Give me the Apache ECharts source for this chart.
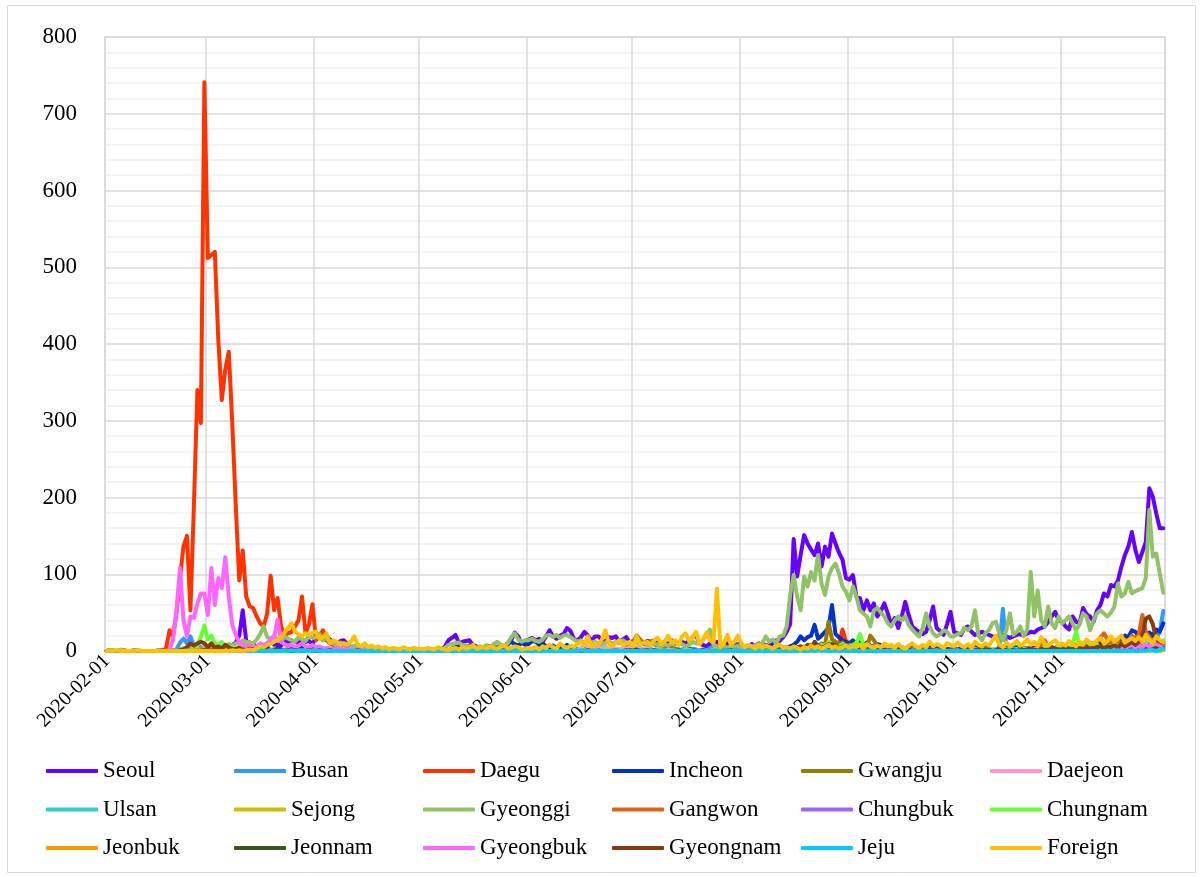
<!DOCTYPE html>
<html>
<head>
<meta charset="utf-8">
<script src="https://cdn.jsdelivr.net/npm/echarts@6.0.0/dist/echarts.min.js"></script>
<style>
  html, body { margin: 0; padding: 0; background: #ffffff; }
  #chart { width: 1203px; height: 877px; }
</style>
</head>
<body>
<div id="chart"></div>
<script>
// Daily new confirmed cases by region, 2020-02-01 .. 2020-11-30 (one value per day, 304 days).
// Rows inside each array run month by month: Feb(29) Mar(31) Apr(30) May(31) Jun(30) Jul(31) Aug(31) Sep(30) Oct(31) Nov(30).

const seoul = [
  0,1,0,0,1,0,0,0,1,0, 0,0,0,0,0,1,1,2,1,1, 0,1,3,3,2,4,2,3,4,
  6,5,2,7,4,7,6,8,11,20, 53,13,10,9,6,3,4,5,12,8, 9,7,14,12,14,12,10,15,12,13, 9,
  18,22,14,20,15,11,9,13,14,9, 5,6,8,4,3,2,5,2,3,1, 2,2,1,1,2,3,1,2,1,2,
  1,2,0,1,2,0,1,6,14,17, 21,10,12,13,14,8,6,4,5,7, 6,4,5,3,6,8,14,24,19,10, 12,
  15,17,14,16,12,19,27,19,16,20, 22,30,26,16,14,18,25,20,13,19, 19,14,12,18,17,19,12,15,18,11,
  13,14,11,9,13,12,14,10,9,12, 8,14,11,9,12,10,13,18,21,9, 8,6,10,8,12,9,7,10,6,8, 9,
  8,6,5,9,7,10,6,8,7,10, 14,13,18,25,35,146,97,125,151,140, 132,125,140,110,136,123,153,140,128,119, 95,
  93,99,71,69,53,66,53,62,45,52, 62,49,34,43,30,45,64,47,32,28, 25,22,25,40,58,30,26,21,35,51,
  25,23,21,30,32,25,21,23,25,23, 21,19,18,20,21,19,17,19,21,22, 20,23,25,24,28,30,32,38,45,51, 40,
  38,32,28,45,38,36,56,48,45,38, 53,60,75,71,86,84,92,110,125,136, 155,132,116,129,142,212,201,179,160,160
];

const busan = [
  0,0,0,0,0,0,0,0,0,0, 0,0,0,0,0,0,0,0,0,0, 2,11,16,10,19,7,8,5,3,
  4,3,2,5,3,2,1,2,0,1, 1,0,2,1,0,1,0,1,2,1, 0,1,1,2,3,1,0,1,2,1, 0,
  1,0,1,2,0,1,0,0,1,0, 0,1,0,0,0,1,0,0,0,0, 0,0,1,0,0,0,0,0,1,0,
  0,0,1,0,0,0,0,0,1,2, 1,0,1,0,0,0,0,1,0,0, 1,0,0,0,0,1,0,2,1,0, 0,
  1,0,0,2,1,0,0,1,0,0, 1,0,2,1,1,3,2,1,0,4, 2,3,5,2,1,0,1,2,1,0,
  1,0,2,1,0,0,1,3,2,0, 1,0,1,2,0,0,1,3,1,0, 2,1,4,2,1,0,1,0,2,1, 0,
  1,0,0,1,2,0,1,0,0,1, 0,2,1,0,3,2,5,4,6,3, 4,7,5,6,3,8,5,6,4,7, 3,
  5,4,6,3,5,2,4,6,3,2, 4,3,5,2,1,3,2,4,3,1, 2,3,1,2,4,2,3,1,2,3,
  2,1,3,2,1,4,2,3,1,2, 3,2,1,4,55,5,3,8,4,2, 3,4,2,3,1,4,2,3,5,2, 3,
  3,2,4,2,3,5,4,6,3,5, 8,6,10,7,9,12,8,14,10,16, 12,18,15,20,14,17,22,16,25,52
];

const daegu = [
  0,0,0,0,0,0,0,0,0,0, 0,0,0,0,0,0,0,3,27,19, 49,95,136,150,53,190,340,297,741,
  512,516,520,405,327,367,390,297,190,92, 131,71,58,56,45,36,32,49,98,53, 69,32,21,23,25,32,40,71,23,35, 61,
  14,20,27,14,10,8,6,7,9,5, 3,2,8,4,3,2,3,1,0,1, 2,0,1,3,0,2,1,0,1,0,
  0,1,0,0,0,1,0,0,1,0, 0,0,1,0,0,0,2,0,1,0, 0,0,1,0,0,0,0,1,0,0, 0,
  0,0,1,0,0,0,0,0,1,0, 0,2,0,0,1,0,0,0,0,0, 1,0,0,0,0,1,0,0,0,0,
  0,0,1,0,0,0,0,0,0,1, 0,0,0,0,1,0,0,0,0,0, 0,1,0,0,0,0,0,0,1,0, 0,
  0,0,0,1,0,0,0,0,0,0, 1,0,0,2,1,3,2,4,5,3, 6,8,5,4,9,7,6,10,8,28, 12,
  10,8,6,5,4,3,2,4,3,1, 2,3,1,2,1,0,2,1,1,0, 1,2,0,1,3,1,0,1,2,0,
  1,0,2,1,0,1,0,1,2,0, 1,0,1,3,1,0,2,1,0,1, 4,2,1,3,2,1,0,2,3,1, 2,
  1,2,3,1,2,0,1,2,3,4, 2,3,1,2,5,3,4,6,3,5, 8,4,6,9,5,7,11,8,10,12
];

const incheon = [
  0,1,0,0,0,0,0,0,0,0, 0,0,0,0,0,0,0,0,0,0, 1,0,1,0,2,1,0,1,2,
  2,1,0,1,2,0,1,3,2,1, 0,1,2,1,0,1,2,3,1,2, 4,2,1,3,5,2,3,4,2,3, 5,
  4,3,2,1,3,2,1,2,1,0, 1,2,0,1,0,1,0,0,1,0, 0,0,1,0,0,0,0,0,0,0,
  0,0,0,0,0,1,0,0,1,3, 5,8,6,4,7,3,5,4,2,3, 2,1,3,2,6,10,12,9,7,11, 8,
  9,13,12,8,10,6,5,7,4,6, 3,8,5,4,2,3,6,2,1,3, 2,1,4,2,3,1,2,1,2,3,
  1,2,3,1,0,2,1,1,3,0, 2,1,1,0,2,1,3,1,2,0, 1,2,1,0,1,2,0,1,1,3, 2,
  1,0,2,1,1,3,2,1,2,4, 3,2,5,4,6,8,12,19,14,18, 20,34,16,20,25,30,60,22,18,14, 12,
  10,14,9,12,8,11,7,6,9,8, 5,7,6,4,8,5,3,6,4,5, 3,2,4,6,3,5,2,4,3,2,
  3,2,4,1,3,2,5,3,2,4, 3,1,2,4,3,5,2,3,4,6, 3,2,5,4,3,6,4,5,3,4, 6,
  5,3,4,6,8,5,7,4,9,6, 8,10,7,12,9,14,11,16,20,18, 27,25,20,18,22,24,20,28,25,36
];

const gwangju = [
  0,0,0,0,0,1,0,0,0,0, 0,0,0,0,0,0,0,0,0,0, 1,2,1,0,1,2,0,0,1,
  0,0,1,0,2,0,1,0,1,0, 0,0,0,1,0,0,0,1,0,0, 1,0,0,1,2,0,1,0,0,1, 0,
  1,0,0,1,0,0,0,0,1,0, 0,0,0,0,0,1,0,0,0,0, 0,0,0,0,0,0,0,0,0,0,
  0,0,0,0,0,0,0,0,1,0, 0,1,0,0,0,0,0,0,0,0, 0,0,0,0,0,1,0,0,0,0, 0,
  0,0,0,0,0,0,0,0,0,0, 0,0,0,0,0,0,0,0,0,0, 0,0,0,0,0,0,1,2,5,8,
  12,20,15,10,8,12,9,6,7,5, 4,6,3,2,1,3,2,1,0,1, 2,0,1,0,1,0,2,1,0,1, 0,
  0,1,0,0,1,0,0,1,0,2, 0,1,0,2,3,1,4,6,3,5, 8,4,6,10,7,38,15,12,9,11, 7,
  8,6,12,7,9,5,20,14,6,4, 5,3,6,2,4,3,1,2,3,1, 2,1,0,1,2,0,1,0,1,0,
  0,1,0,0,1,2,0,1,0,3, 1,0,2,1,0,1,0,0,2,1, 0,1,3,0,1,2,0,1,0,2, 1,
  0,1,2,1,0,2,1,3,2,4, 2,1,3,5,2,4,3,6,4,5, 8,4,6,7,10,9,6,8,7,10
];

const daejeon = [
  0,0,0,0,0,0,0,0,0,0, 0,0,0,0,0,0,0,0,0,0, 0,1,1,0,1,2,3,1,2,
  1,2,0,1,3,2,1,0,1,2, 0,1,2,0,1,2,3,1,0,2, 1,0,1,2,0,1,2,0,1,0, 1,
  1,0,2,0,1,0,0,1,0,0, 1,0,0,0,0,0,1,0,0,0, 0,0,0,0,0,0,0,0,0,0,
  0,0,0,0,0,0,0,0,0,1, 0,0,1,0,0,0,0,0,0,0, 0,0,0,0,0,1,0,0,0,0, 0,
  0,0,0,0,0,0,0,0,0,0, 0,0,0,0,1,4,8,6,5,3, 7,4,6,2,5,3,2,4,3,5,
  4,6,3,2,5,1,2,3,1,0, 2,1,0,1,0,2,1,0,0,1, 0,1,0,0,0,1,0,0,1,0, 0,
  0,0,1,0,0,0,1,0,0,0, 1,0,2,1,3,2,4,3,5,2, 6,4,3,5,8,6,4,7,5,3, 4,
  5,3,4,6,2,3,5,1,2,4, 3,1,2,0,1,2,1,0,1,2, 0,1,0,1,2,0,1,0,0,1,
  0,1,0,2,1,0,1,0,1,0, 2,1,0,1,0,1,2,0,1,0, 1,0,2,1,0,1,0,2,1,0, 1,
  0,1,2,0,1,2,1,0,2,1, 3,2,1,2,4,2,3,5,2,4, 3,6,4,5,3,7,5,4,6,8
];

const ulsan = [
  0,0,0,0,0,0,0,0,0,0, 0,0,0,0,0,0,0,0,0,0, 0,0,1,2,3,1,4,3,2,
  3,2,1,2,1,0,1,0,1,0, 0,1,0,0,0,1,0,0,1,0, 0,0,1,0,0,0,1,0,0,0, 0,
  0,0,1,0,0,0,0,0,1,0, 0,0,0,0,0,0,0,0,0,0, 0,0,0,0,0,0,0,0,0,0,
  0,0,0,0,0,0,0,0,0,0, 0,0,0,0,0,0,0,0,0,1, 0,0,0,0,0,0,0,0,0,0, 0,
  0,0,0,0,0,0,0,0,0,0, 1,0,0,0,0,0,0,0,0,0, 0,0,0,0,1,0,0,0,0,0,
  0,0,0,0,0,0,0,0,0,0, 0,0,0,0,1,0,0,0,0,0, 0,0,1,0,0,0,0,0,0,0, 0,
  0,0,0,0,0,0,0,0,0,0, 0,0,0,1,0,1,0,2,1,0, 2,1,3,2,1,4,2,3,1,2, 1,
  2,1,3,1,0,2,1,0,1,0, 1,0,0,1,0,0,1,0,0,0, 0,1,0,0,0,1,0,0,0,1,
  0,1,0,0,0,1,0,0,0,0, 1,0,0,0,0,1,0,0,0,0, 0,0,0,1,0,0,0,0,1,0, 0,
  0,0,1,0,0,0,1,0,0,0, 1,0,0,2,0,1,0,3,1,2, 4,1,3,2,5,3,2,4,3,6
];

const sejong = [
  0,0,0,0,0,0,0,0,0,0, 0,0,0,0,0,0,0,0,0,0, 0,0,0,0,0,0,0,1,0,
  0,0,0,1,0,0,0,0,1,3, 5,10,12,6,4,2,3,1,0,1, 0,1,0,0,1,0,0,0,1,0, 0,
  0,0,0,0,0,0,0,0,0,0, 0,0,0,0,0,0,0,0,0,0, 0,0,0,0,0,0,0,0,0,0,
  0,0,0,0,0,0,0,0,0,0, 0,0,0,0,0,0,0,0,0,0, 0,0,0,0,0,0,0,0,0,0, 0,
  0,0,0,0,0,0,0,0,0,0, 0,0,0,0,0,0,1,0,0,1, 0,0,0,0,0,1,0,0,0,0,
  0,0,0,0,0,1,0,0,0,0, 0,0,0,0,0,0,0,0,0,0, 0,0,0,0,1,0,0,0,0,0, 0,
  0,0,0,0,0,0,0,0,0,0, 0,0,0,0,0,0,0,1,0,0, 1,0,0,2,0,1,0,0,1,0, 0,
  1,0,0,1,0,0,0,1,0,0, 0,0,0,0,0,1,0,0,0,0, 0,0,0,0,0,0,0,0,1,0,
  0,0,0,0,0,0,0,0,0,0, 0,1,0,0,0,0,0,0,0,0, 0,0,0,0,0,0,0,1,0,0, 0,
  0,0,0,0,1,0,0,0,0,0, 0,0,1,0,0,0,0,1,0,0, 0,1,0,0,2,0,1,0,0,1
];

const gyeonggi = [
  0,1,1,0,2,0,0,0,1,1, 0,0,0,0,0,1,0,0,0,1, 1,2,3,1,4,2,3,2,5,
  2,3,5,8,6,7,9,7,10,9, 14,12,9,10,15,22,32,18,16,20, 14,12,19,16,14,12,18,15,13,20, 17,
  18,22,14,17,12,10,8,11,9,6, 5,7,4,3,5,2,4,3,2,1, 3,1,2,0,1,2,1,0,2,1,
  1,0,2,1,0,1,2,4,8,9, 10,11,8,7,6,5,4,6,5,7, 5,9,12,8,6,10,18,23,15,12, 14,
  14,16,13,12,15,20,21,18,21,17, 20,21,18,15,12,14,10,13,11,12, 10,8,11,13,9,12,10,14,11,9,
  10,12,8,11,9,7,10,8,6,9, 7,10,8,11,9,6,8,12,10,9, 14,20,28,8,6,5,7,4,6,5, 7,
  4,6,3,5,8,4,10,19,12,15, 10,19,20,32,73,99,71,53,97,84, 103,92,125,88,73,97,108,114,101,84, 77,
  66,84,71,53,49,45,32,53,56,50, 45,36,32,40,45,40,45,34,28,23, 19,30,49,32,23,19,22,27,25,19,
  19,22,23,30,27,32,53,20,14,23, 27,36,38,23,14,27,49,21,25,32, 19,28,103,45,79,40,32,58,36,30, 45,
  36,40,45,36,27,35,49,45,27,40, 49,53,49,45,50,58,88,71,75,90, 75,78,80,82,95,184,123,127,101,76
];

const gangwon = [
  0,0,0,0,0,0,0,0,0,0, 0,0,0,0,0,0,0,0,0,0, 0,1,2,1,1,0,1,2,1,
  2,1,0,1,2,0,1,0,1,0, 0,1,0,0,1,0,0,0,1,0, 0,1,0,0,1,0,1,0,0,2, 1,
  0,1,0,0,1,0,0,0,0,1, 0,0,0,0,0,0,0,0,0,0, 0,0,0,0,0,0,0,0,0,0,
  0,0,0,0,0,0,0,0,0,1, 0,0,0,0,0,0,0,0,0,0, 0,0,0,0,1,0,0,0,0,0, 0,
  0,0,0,0,1,0,0,0,0,0, 0,0,1,0,0,0,0,0,0,1, 0,0,0,0,0,1,0,0,0,0,
  0,0,0,1,0,0,0,0,1,0, 0,0,0,0,0,0,1,0,0,0, 0,0,1,0,0,0,0,0,0,0, 1,
  0,0,1,0,0,0,0,1,0,0, 0,0,1,0,2,3,2,4,3,6, 5,3,4,2,5,3,6,4,3,2, 3,
  2,3,1,2,4,1,2,1,3,0, 1,2,0,1,0,2,1,0,1,0, 0,1,0,2,0,1,0,0,1,0,
  0,1,0,0,1,0,2,0,1,0, 1,0,2,1,0,1,3,1,2,0, 1,2,1,0,3,6,14,4,2,1, 2,
  1,2,3,2,1,3,5,8,6,10, 12,18,23,15,10,8,13,9,14,12, 20,15,22,47,25,18,12,15,10,8
];

const chungbuk = [
  0,0,0,0,0,0,0,0,0,0, 0,0,0,0,0,0,0,0,0,0, 0,1,1,0,1,2,0,1,1,
  1,0,2,1,0,1,3,2,1,0, 1,2,0,1,1,0,2,1,0,1, 0,1,1,0,0,1,0,1,0,0, 1,
  0,1,0,0,0,1,0,0,0,0, 0,0,1,0,0,0,0,0,0,0, 0,0,0,0,0,0,0,0,0,0,
  0,0,0,0,0,0,0,0,0,1, 1,0,0,1,0,0,0,0,0,0, 0,0,0,0,0,0,0,1,0,0, 0,
  0,0,0,0,0,0,0,0,1,0, 0,0,0,0,0,0,0,0,0,0, 1,0,0,0,0,0,0,0,0,0,
  0,0,0,0,0,0,1,0,0,0, 0,0,0,0,0,0,0,0,1,0, 0,0,0,0,0,0,0,1,0,0, 0,
  0,0,0,0,0,0,0,0,0,0, 0,0,0,1,0,1,2,1,3,2, 1,4,2,3,1,5,3,2,4,2, 3,
  2,1,3,1,2,0,1,2,0,1, 0,1,0,0,1,0,0,1,0,0, 0,1,0,0,2,0,0,1,0,0,
  0,1,0,0,0,1,0,0,2,0, 0,1,0,0,0,1,0,0,1,0, 0,0,1,0,0,2,0,0,1,0, 0,
  0,1,0,0,1,0,2,0,1,0, 2,1,0,3,1,2,0,4,1,3, 2,5,3,2,4,6,3,5,4,8
];

const chungnam = [
  0,0,0,0,0,0,0,0,0,0, 0,0,0,0,0,0,0,0,0,0, 0,0,0,0,1,3,8,18,33,
  15,20,10,8,12,5,6,4,3,3, 5,2,4,1,2,3,1,0,1,2, 0,1,0,1,0,1,0,0,1,0, 0,
  0,1,0,0,0,0,1,0,0,0, 0,0,0,0,0,0,0,0,0,0, 0,0,0,0,0,0,0,0,0,0,
  0,0,0,0,0,0,0,0,0,0, 0,0,0,0,0,0,1,0,0,0, 0,0,0,0,0,0,0,0,0,0, 0,
  0,0,0,0,0,0,0,0,0,0, 0,1,0,0,0,1,2,1,0,1, 0,0,1,0,0,0,1,0,0,0,
  0,1,0,0,0,0,0,0,1,0, 0,0,0,0,0,0,1,0,0,0, 0,0,0,1,0,0,0,0,0,0, 0,
  0,0,0,0,0,0,1,0,0,0, 0,0,0,0,2,1,3,5,2,4, 3,6,4,8,5,12,7,4,6,9, 5,
  6,8,10,22,8,5,4,6,3,2, 4,1,3,2,1,0,2,1,0,1, 0,2,1,0,1,0,0,1,0,2,
  1,0,2,1,0,1,0,2,1,0, 1,3,2,1,4,2,1,3,2,5, 3,2,4,1,3,2,5,3,2,4, 6,
  3,5,4,8,25,6,4,10,6,5, 8,6,4,7,5,9,6,10,8,12, 9,7,14,10,12,15,10,16,12,14
];

const jeonbuk = [
  0,0,0,0,0,0,0,0,0,0, 0,0,0,0,0,0,0,0,0,0, 0,0,0,1,0,1,1,0,1,
  0,0,1,0,0,1,0,0,0,0, 0,0,1,0,0,0,0,0,0,0, 0,0,0,0,1,0,0,0,0,1, 0,
  0,0,1,0,0,0,0,0,0,0, 0,0,0,0,0,0,0,0,0,0, 0,0,0,0,0,0,0,0,0,0,
  0,0,0,0,0,0,0,0,0,0, 0,0,0,0,0,0,0,0,0,0, 0,0,0,0,0,1,0,0,0,0, 0,
  0,0,0,0,0,0,0,0,0,0, 0,0,0,0,0,0,1,0,0,0, 0,0,0,0,0,0,0,0,0,0,
  0,0,1,0,0,0,0,0,0,0, 0,0,0,0,0,0,0,0,0,0, 0,0,0,1,0,0,0,0,0,0, 0,
  0,0,0,0,0,0,0,0,0,0, 0,0,0,0,1,2,0,3,1,2, 4,2,1,3,5,2,4,3,1,2, 3,
  1,2,0,1,3,1,0,2,1,0, 1,0,0,1,0,0,1,0,0,0, 1,0,0,0,0,1,0,0,0,0,
  0,0,1,0,0,0,0,1,0,0, 0,0,0,1,0,0,0,2,0,0, 1,0,0,0,3,1,0,0,2,1, 0,
  0,1,0,0,2,1,0,3,1,2, 1,0,4,2,1,3,5,2,4,3, 2,6,3,4,8,5,6,4,9,7
];

const jeonnam = [
  0,0,0,0,0,0,0,0,0,0, 0,0,0,0,0,0,0,0,0,0, 0,0,0,0,0,0,0,0,1,
  0,0,1,0,0,0,0,0,0,0, 0,0,0,1,0,0,0,0,0,0, 0,0,0,0,0,1,0,0,0,0, 0,
  0,0,0,1,0,0,0,0,0,0, 0,0,0,0,0,0,0,0,0,0, 0,0,0,0,0,0,0,0,0,0,
  0,0,0,0,0,0,0,0,0,0, 0,0,0,0,0,0,0,0,0,0, 0,0,0,0,0,0,0,0,0,0, 0,
  0,0,0,0,0,0,0,0,0,0, 0,0,0,0,0,0,0,0,0,0, 0,0,0,0,0,1,0,0,0,1,
  1,2,0,1,0,0,1,0,0,0, 0,0,0,0,0,0,0,0,0,0, 0,0,0,0,0,0,0,0,0,0, 0,
  0,0,0,0,0,0,0,0,0,0, 0,0,0,0,0,1,0,2,1,0, 3,12,6,4,5,3,9,6,2,3, 1,
  2,1,0,1,2,0,1,0,0,1, 0,0,1,0,0,0,0,1,0,0, 0,0,0,0,1,0,0,0,0,0,
  0,0,0,1,0,0,0,0,0,0, 1,0,0,0,0,0,0,0,0,1, 0,0,0,0,0,0,1,0,0,0, 0,
  0,0,0,1,0,0,2,1,0,3, 5,2,1,4,3,2,5,4,3,6, 4,2,8,5,3,4,6,3,5,4
];

const gyeongbuk = [
  0,0,0,0,0,0,0,0,0,0, 0,0,0,0,0,0,0,0,2,14, 53,108,40,19,45,43,62,75,75,
  47,108,60,95,82,122,71,34,21,12, 8,5,7,4,6,10,8,10,15,18, 41,12,9,6,8,5,7,10,6,5, 8,
  5,6,3,4,3,2,5,3,2,4, 1,2,1,3,2,1,1,0,2,1, 0,1,0,0,1,0,2,0,1,0,
  0,0,1,0,0,0,0,0,1,0, 0,1,0,0,0,0,2,1,0,0, 0,1,0,0,0,0,1,0,0,0, 0,
  0,0,0,0,1,0,0,0,0,0, 0,1,0,0,0,0,0,0,1,0, 0,0,0,0,0,1,0,0,0,0,
  0,0,0,1,0,0,0,0,0,0, 0,0,1,0,0,0,0,0,0,1, 0,0,0,0,0,0,0,0,0,0, 1,
  0,0,0,0,0,0,0,0,1,0, 0,0,0,1,2,3,4,2,5,3, 4,6,3,5,4,7,6,3,5,4, 3,
  4,6,3,5,2,4,3,5,2,1, 3,2,1,2,0,1,3,1,0,2, 1,0,1,2,0,1,0,1,0,1,
  0,1,0,2,1,0,3,1,2,0, 1,0,2,1,3,1,0,2,1,0, 1,2,0,3,1,2,0,1,3,2, 1,
  2,1,3,2,4,1,3,2,5,3, 4,2,6,3,5,4,7,5,3,6, 8,4,7,5,9,6,8,10,7,9
];

const gyeongnam = [
  0,0,0,0,0,0,0,0,0,0, 0,0,0,0,0,0,0,0,0,0, 0,1,2,5,10,7,10,12,10,
  5,10,4,6,3,8,5,2,3,4, 2,1,3,2,1,0,2,1,0,1, 2,1,0,1,2,1,0,1,0,1, 0,
  0,1,0,0,1,0,0,0,0,0, 0,0,1,0,0,0,0,0,0,0, 0,0,0,0,0,0,0,0,0,0,
  0,0,0,0,0,0,0,0,0,1, 0,0,1,0,0,0,0,0,0,0, 0,0,0,0,0,0,1,0,0,0, 0,
  0,0,0,0,0,0,0,0,1,0, 0,0,0,0,0,0,0,1,0,0, 0,0,0,0,0,0,0,0,1,0,
  0,0,0,0,1,0,0,0,0,0, 0,0,0,1,0,0,0,0,0,0, 1,0,0,0,0,0,0,0,1,0, 0,
  0,0,0,0,0,0,0,0,0,0, 0,1,0,2,3,1,4,6,3,8, 5,10,7,4,6,9,5,8,3,6, 4,
  5,3,4,2,3,5,2,1,3,2, 1,2,0,1,3,0,1,2,0,1, 0,1,0,2,1,0,1,0,2,1,
  1,0,2,1,3,0,1,2,4,1, 2,0,1,3,2,1,0,2,1,3, 1,2,4,1,2,3,1,2,5,3, 2,
  2,4,3,2,5,3,4,6,2,5, 4,7,3,6,5,8,4,10,6,9, 12,8,12,20,42,45,35,15,12,10
];

const jeju = [
  0,0,0,0,0,0,0,0,0,0, 0,0,0,0,0,0,0,0,0,0, 1,0,0,1,0,0,0,0,0,
  0,0,0,0,0,0,0,0,0,0, 0,0,0,0,0,0,0,0,0,0, 0,0,0,0,1,0,0,1,0,0, 0,
  1,0,0,0,0,0,0,0,0,0, 0,0,0,0,0,0,0,0,0,0, 0,0,0,0,0,0,0,0,0,0,
  0,0,0,0,0,0,0,0,0,0, 0,0,0,0,0,0,0,0,0,0, 0,0,0,0,0,0,0,0,0,0, 0,
  0,0,0,0,0,0,0,0,0,0, 0,0,0,0,0,1,0,0,0,0, 0,0,0,0,0,0,0,0,0,0,
  0,0,0,0,0,0,0,0,0,0, 0,0,0,0,0,0,0,0,0,0, 0,0,0,0,0,0,0,0,0,0, 0,
  0,0,0,0,0,0,0,0,0,0, 0,0,0,0,0,0,0,1,0,0, 1,0,2,0,1,0,0,1,0,0, 1,
  0,1,0,0,0,0,1,0,0,0, 0,0,0,0,0,0,0,0,0,0, 0,0,0,0,0,0,0,0,0,0,
  0,0,0,0,0,0,0,0,0,0, 0,0,0,0,0,0,0,0,1,0, 0,0,0,0,0,0,0,0,0,0, 0,
  0,0,0,0,0,0,0,0,0,0, 0,0,0,0,0,0,1,0,0,0, 1,0,0,1,0,2,1,0,2,3
];

const foreign = [
  0,1,0,1,0,0,0,0,0,1, 0,0,0,0,0,0,0,0,0,0, 0,0,0,0,0,0,0,0,0,
  0,0,0,0,0,0,0,1,0,1, 0,1,2,1,3,6,5,8,9,12, 14,18,24,30,36,25,22,19,23,21, 24,
  25,16,18,23,10,14,12,8,10,9, 12,19,8,6,10,5,7,4,6,3, 5,2,4,3,2,5,3,2,4,3,
  3,2,4,3,2,5,3,2,1,3, 4,2,5,3,4,8,3,4,5,3, 6,4,3,5,8,3,4,6,5,2, 3,
  4,3,5,2,6,4,8,5,3,10, 6,4,7,5,9,12,8,19,6,10, 8,15,27,9,6,11,14,8,10,12,
  6,19,9,10,12,8,14,17,9,12, 20,11,14,8,19,23,13,18,25,9, 15,24,14,11,81,5,10,21,8,12, 20,
  10,5,8,6,3,9,4,7,5,3, 6,8,4,5,3,6,4,2,5,3, 7,4,6,3,5,8,4,6,3,5, 7,
  4,6,5,8,3,9,6,4,7,5, 10,6,8,4,9,5,3,7,10,6, 4,8,5,12,6,9,7,4,10,8,
  6,11,7,5,9,4,12,8,6,10, 7,14,20,8,5,11,6,9,13,7, 10,15,8,12,6,18,9,7,11,14, 8,
  10,7,13,9,6,12,8,15,11,9, 14,17,10,13,19,12,16,20,11,14, 17,13,18,12,21,15,10,19,14,11
];

// Region names, line colours and the value arrays, in plotting order
const regionNames = ['Seoul','Busan','Daegu','Incheon','Gwangju','Daejeon','Ulsan','Sejong','Gyeonggi',
  'Gangwon','Chungbuk','Chungnam','Jeonbuk','Jeonnam','Gyeongbuk','Gyeongnam','Jeju','Foreign'];
const regionColors = ['#6600FF','#3399FF','#FF3300','#0033CC','#9C7A00','#FF99CC','#33CCCC','#CCC000','#92C266',
  '#D9641A','#9966FF','#66FF33','#FF9900','#375623','#FF66FF','#843C0C','#00CCFF','#FFC000'];
const regionValues = [seoul, busan, daegu, incheon, gwangju, daejeon, ulsan, sejong, gyeonggi,
  gangwon, chungbuk, chungnam, jeonbuk, jeonnam, gyeongbuk, gyeongnam, jeju, foreign];

// Y axis ticks
const yMin = 0, yMax = 800, yStep = 100;

// One category per day starting 2020-02-01
const firstDay = Date.UTC(2020, 1, 1);
const dayCount = 304;
const days = [];
for (let i = 0; i < dayCount; i++) {
  days.push(new Date(firstDay + i * 86400000).toISOString().slice(0, 10));
}
regionValues.forEach((arr, k) => {
  if (arr.length !== dayCount) throw new Error(regionNames[k] + ' has ' + arr.length + ' values');
});

const FONT = '"Liberation Serif", "Times New Roman", serif';
const isMonthStart = (idx, val) => String(val).slice(8) === '01';

const series = regionNames.map((name, k) => ({
  name: name,
  type: 'line',
  data: regionValues[k],
  showSymbol: false,
  symbol: 'none',
  silent: true,
  color: regionColors[k],
  lineStyle: { width: 4, color: regionColors[k], cap: 'round', join: 'round' }
}));

// Legend laid out as six columns of three rows
const legendColumns = [
  ['Seoul','Ulsan','Jeonbuk'],
  ['Busan','Sejong','Jeonnam'],
  ['Daegu','Gyeonggi','Gyeongbuk'],
  ['Incheon','Gangwon','Gyeongnam'],
  ['Gwangju','Chungbuk','Jeju'],
  ['Daejeon','Chungnam','Foreign']
];
const legendLeft = [46, 234, 423, 612, 801, 990];
const legends = legendColumns.map((names, c) => ({
  orient: 'vertical',
  left: legendLeft[c],
  top: 759,
  data: names,
  icon: 'roundRect',
  itemWidth: 52,
  itemHeight: 4,
  itemGap: 14.5,
  padding: 0,
  selectedMode: false,
  textStyle: { fontFamily: FONT, fontSize: 23, color: '#000', lineHeight: 24 }
}));

const chart = echarts.init(document.getElementById('chart'), null, { renderer: 'canvas' });
chart.setOption({
  animation: false,
  backgroundColor: '#ffffff',
  graphic: [{
    type: 'rect',
    shape: { x: 7.5, y: 5.5, width: 1188, height: 867 },
    style: { fill: 'none', stroke: '#d9d9d9', lineWidth: 1 },
    silent: true,
    z: -1
  }],
  grid: {
    left: 105, top: 37, width: 1060, height: 614,
    show: true, borderColor: '#d9d9d9', borderWidth: 1.5, backgroundColor: 'transparent'
  },
  legend: legends,
  xAxis: {
    type: 'category',
    data: days,
    boundaryGap: true,
    axisLine: { show: true, lineStyle: { color: '#d9d9d9', width: 1.5 } },
    axisTick: { show: false },
    axisLabel: {
      interval: isMonthStart,
      rotate: 45,
      margin: 7,
      fontFamily: FONT,
      fontSize: 20,
      color: '#000'
    },
    splitLine: { show: true, interval: isMonthStart, lineStyle: { color: '#d9d9d9', width: 1.5 } }
  },
  yAxis: {
    type: 'value',
    min: yMin, max: yMax, interval: yStep,
    axisLine: { show: false },
    axisTick: { show: false },
    axisLabel: { fontFamily: FONT, fontSize: 23, color: '#000', margin: 28 },
    splitLine: { show: true, lineStyle: { color: '#d9d9d9', width: 1.5 } },
    minorTick: { show: false, splitNumber: 5 },
    minorSplitLine: { show: true, lineStyle: { color: '#f0f0f0', width: 1.5 } }
  },
  series: series
});
</script>
</body>
</html>
